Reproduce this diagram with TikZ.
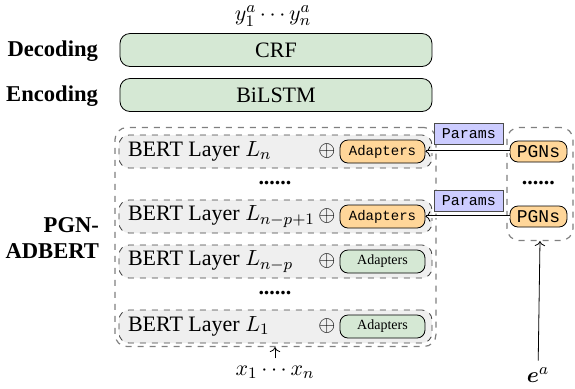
\documentclass[tikz,border=0pt]{standalone}
\usepackage{amsmath}
\usepackage{amssymb}
\usepackage{fontspec}
\setmainfont{Liberation Serif}[BoldFont = {Liberation Serif Bold}]
\setmonofont{Liberation Mono}
\usetikzlibrary{arrows.meta}
\usetikzlibrary{positioning}
\tikzset{toplayer/.style = {draw, fill=mgreen, rounded corners = 5pt, minimum width = 156pt, minimum height = 16.5pt}}
\tikzset{sidelabel/.style = {anchor = east, font = \bfseries\fontsize{11.3}{13}\selectfont}}
\tikzset{groupbox/.style = {draw = mgray, dashed, line width = 0.6pt, rounded corners = 6pt}}
\tikzset{layerbox/.style = {draw = black!75, dashed, fill = mlight, rounded corners = 5pt, minimum width = 156.5pt, minimum height = 16.5pt}}
\tikzset{adorange/.style = {draw, fill=morange, rounded corners = 4pt, minimum width = 42.5pt, minimum height = 11.5pt, inner sep = 1pt, font = \ttfamily\fontsize{7}{8}\selectfont}}
\tikzset{adgreen/.style = {draw, fill=mgreen, rounded corners = 4pt, minimum width = 42.5pt, minimum height = 11.5pt, inner sep = 1pt, font = \fontsize{7}{8}\selectfont}}
\tikzset{pgn/.style = {draw, fill=morange, rounded corners = 4pt, minimum width = 28.5pt, minimum height = 10.5pt, inner sep = 1pt, font = \ttfamily\fontsize{9}{11}\selectfont}}
\tikzset{params/.style = {draw = black!70, fill=mpurple, minimum width = 34.5pt, minimum height = 10.5pt, inner sep = 1pt, font = \ttfamily\fontsize{7.5}{9}\selectfont}}
\tikzset{paramflow/.style = {double, double distance = 1pt, -{To[length = 2.5pt]}}}
\definecolor{mgreen}{HTML}{D5E8D4}
\definecolor{morange}{HTML}{FFD699}
\definecolor{mlight}{HTML}{EFEFEF}
\definecolor{mgray}{HTML}{808080}
\definecolor{mpurple}{HTML}{CCCCFF}

\begin{document}
\begin{tikzpicture}[x = 0.5pt, y = -0.5pt, font = \fontsize{11}{13}\selectfont]
    \useasboundingbox (0, 0) rectangle (575, 388);

    \node [inner sep = 1pt] (yout) at (273, 16) {$y_1^a \cdots y_n^a$};
    \node [toplayer] (crf) at (276, 50) {CRF};
    \node [toplayer] (bilstm) at (276, 95) {BiLSTM};
    \node [sidelabel] (dec) at (105, 51) {Decoding};
    \node [sidelabel] (enc) at (105, 96) {Encoding};
    \node [sidelabel, align = right] (pgnlab) at (106, 238) {PGN-\\ADBERT};

    \node [groupbox, minimum width = 160.5pt, minimum height = 109.5pt] (adbert) at (275.5, 237) {};
    \foreach \y/\nm/\sub/\ad in {151.5/ln/n/adorange, 216.5/lk/{n-p+1}/adorange, 261.5/lp/{n-p}/adgreen, 326.5/lo/1/adgreen} {
      \node [layerbox] (\nm) at (275.5, \y) {};
      \node [anchor = west] (\nm-txt) at (121, \y) {BERT Layer $L_{\sub}$};
      \node (\nm-plus) at (327, \y) {$\oplus$};
      \node [\ad] (\nm-ad) at (382.5, \y) {Adapters};
    }
    \node (dots1) at (275, 183) {\textbf{......}};
    \node (dots2) at (275, 293) {\textbf{......}};
    \node (xin) at (275, 372) {$x_1 \cdots x_n$};
    \draw [->] (xin) -- (xin |- adbert.south);

    \node [groupbox, minimum width = 33pt, minimum height = 56.5pt] (pgnbox) at (540, 184) {};
    \node [pgn] (pgn1) at (538.5, 151.5) {PGNs};
    \node [pgn] (pgn2) at (538.5, 216.5) {PGNs};
    \node (dots3) at (538.5, 183) {\textbf{......}};
    \node [params] (par1) at (469, 134) {Params};
    \node [params] (par2) at (469, 200.5) {Params};
    \draw [paramflow] (pgn1) -- (ln-ad);
    \draw [paramflow] (pgn2) -- (lk-ad);
    \node (ea) at (538, 375) {$\boldsymbol{e}^a$};
    \draw [->] (ea) -- (pgnbox.south);
  \end{tikzpicture}
\end{document}
